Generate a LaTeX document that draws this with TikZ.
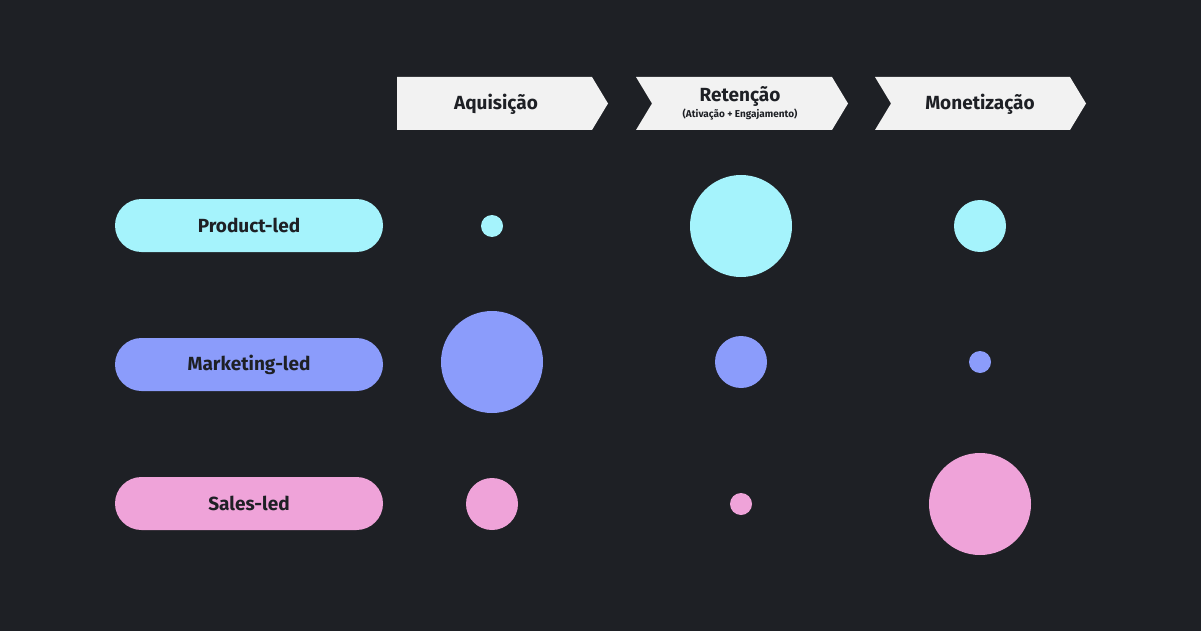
\documentclass[tikz,border=0pt]{standalone}
\usepackage{fontspec}
\setmainfont{Fira Sans}
\definecolor{bg}{HTML}{1E2025}
\definecolor{hd}{HTML}{F2F2F2}
\definecolor{cy}{HTML}{A5F3FC}
\definecolor{bl}{HTML}{8B9CFB}
\definecolor{pk}{HTML}{EFA3D9}
\tikzset{
 pill/.style={rounded corners=26.5pt,minimum width=268pt,minimum height=53pt,inner sep=0pt,font=\fontsize{19}{22}\selectfont\bfseries,text=bg},
 hdr/.style={fill=hd},
 htxt/.style={font=\fontsize{19}{22}\selectfont\bfseries,text=bg},
 dot/.style={circle,inner sep=0pt,draw=none}
}
\begin{document}
\begin{tikzpicture}[x=1pt,y=-1pt]
\fill[bg] (0,0) rectangle (1201,631);
\useasboundingbox (0,0) rectangle (1201,631);
\fill[hdr] (397,77) -- (592,77) -- (608,103.5) -- (592,130) -- (397,130) -- cycle;
\fill[hdr] (636,77) -- (832,77) -- (848,103.5) -- (832,130) -- (636,130) -- (652,103.5) -- cycle;
\fill[hdr] (875,77) -- (1070,77) -- (1086,103.5) -- (1070,130) -- (875,130) -- (891,103.5) -- cycle;
\node[htxt] (h1) at (496,104) {Aquisição};
\node[htxt] (h2) at (740,96) {Retenção};
\node[font=\fontsize{10}{12}\selectfont\bfseries,text=bg] (h2s) at (740,115) {(Ativação + Engajamento)};
\node[htxt] (h3) at (980,104) {Monetização};
\node[pill,fill=cy] (p1) at (249,225.5) {Product-led};
\node[pill,fill=bl] (p2) at (249,364.5) {Marketing-led};
\node[pill,fill=pk] (p3) at (249,503.5) {Sales-led};
\node[dot,fill=cy,minimum size=22pt] (c11) at (492,226) {};
\node[dot,fill=cy,minimum size=102pt] (c12) at (741,226) {};
\node[dot,fill=cy,minimum size=52pt] (c13) at (980,226) {};
\node[dot,fill=bl,minimum size=102pt] (c21) at (492,362) {};
\node[dot,fill=bl,minimum size=52pt] (c22) at (741,362) {};
\node[dot,fill=bl,minimum size=22pt] (c23) at (980,362) {};
\node[dot,fill=pk,minimum size=52pt] (c31) at (492,504) {};
\node[dot,fill=pk,minimum size=22pt] (c32) at (741,504) {};
\node[dot,fill=pk,minimum size=102pt] (c33) at (980,504) {};
\end{tikzpicture}
\end{document}
